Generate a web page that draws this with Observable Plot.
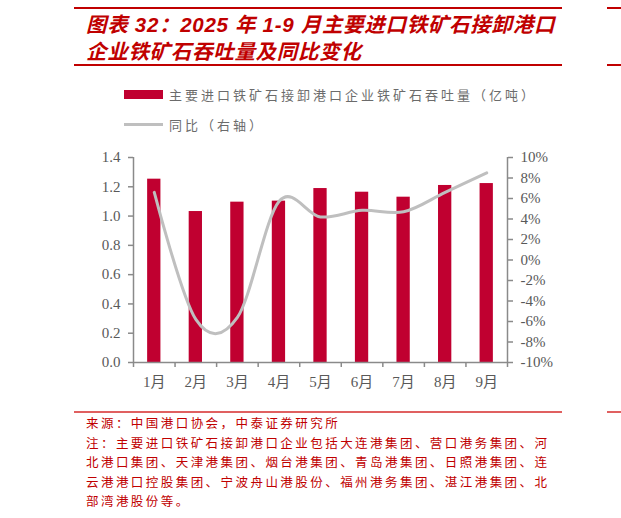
<!DOCTYPE html>
<html>
<head>
<meta charset="utf-8">
<script src="https://cdn.jsdelivr.net/npm/d3@7"></script>
<script src="https://cdn.jsdelivr.net/npm/@observablehq/plot@0.6"></script>
<style>
  html, body { margin: 0; padding: 0; background: #fff; }
  #root { position: relative; width: 621px; height: 518px; overflow: hidden; }
  .hr { position: absolute; background: #C00000; }
  #title { position: absolute; left: 86px; top: 11px; font-family: "Liberation Sans", "Noto Sans CJK SC", sans-serif; font-weight: bold; font-style: italic; font-size: 20.5px; line-height: 27px; color: #C00000; letter-spacing: 0.7px; white-space: nowrap; }
  .legend { position: absolute; left: 124px; font-family: "Noto Sans CJK SC", sans-serif; font-size: 13px; color: #6b6b6b; letter-spacing: 3px; white-space: nowrap; display: flex; align-items: center; }
  .sw { display: inline-block; width: 39px; margin-right: 6px; }
  #notes { position: absolute; left: 86px; top: 413px; font-family: "Noto Sans CJK SC", sans-serif; font-size: 12.5px; line-height: 19.5px; color: #C00000; letter-spacing: 2.45px; white-space: nowrap; }
  #chart { position: absolute; left: 0; top: 140px; }
</style>
</head>
<body>
<div id="root">
  <div class="hr" style="left:74px;top:7px;width:488px;height:2px"></div>
  <div class="hr" style="left:607px;top:7px;width:14px;height:2px"></div>
  <div id="title">图表 32：2025 年 1-9 月主要进口铁矿石接卸港口<br>企业铁矿石吞吐量及同比变化</div>
  <div class="hr" style="left:74px;top:64px;width:488px;height:1.5px"></div>
  <div class="hr" style="left:607px;top:64px;width:14px;height:1.5px"></div>
  <div class="legend" style="top:85px"><span class="sw" style="height:9px;background:#C00030"></span>主要进口铁矿石接卸港口企业铁矿石吞吐量（亿吨）</div>
  <div class="legend" style="top:115px"><span class="sw" style="height:3px;background:#BFBFBF"></span>同比（右轴）</div>
  <div id="chart"></div>
  <div class="hr" style="left:74px;top:411px;width:488px;height:1.5px;background:#e06060"></div>
  <div class="hr" style="left:607px;top:411px;width:14px;height:1.5px;background:#e06060"></div>
  <div id="notes">来源：中国港口协会，中泰证券研究所<br>注：主要进口铁矿石接卸港口企业包括大连港集团、营口港务集团、河<br>北港口集团、天津港集团、烟台港集团、青岛港集团、日照港集团、连<br>云港港口控股集团、宁波舟山港股份、福州港务集团、湛江港集团、北<br>部湾港股份等。</div>
</div>
<script>
// Data
const months = ["1月", "2月", "3月", "4月", "5月", "6月", "7月", "8月", "9月"];
const throughput = [1.252, 1.031, 1.095, 1.102, 1.188, 1.163, 1.129, 1.209, 1.222]; // 亿吨
const yoy = [6.6, -5.8, -5.6, 5.7, 4.2, 4.85, 4.7, 6.6, 8.5]; // %
const leftTicks = [0, 0.2, 0.4, 0.6, 0.8, 1.0, 1.2, 1.4];
const rightTicks = [-10, -8, -6, -4, -2, 0, 2, 4, 6, 8, 10];

const leftMax = 1.4, rMin = -10, rMax = 10;
const toLeft = p => (p - rMin) / (rMax - rMin) * leftMax;
const fromLeft = v => v / leftMax * (rMax - rMin) + rMin;

const rows = months.map((m, k) => ({i: k + 1, m, v: throughput[k], p: yoy[k]}));
const idx = rows.map(d => d.i);
const bounds = d3.range(0.5, months.length + 1, 1);

const axisColor = "#8a8a8a";
const textColor = "#595959";

const chart = Plot.plot({
  width: 621,
  height: 260,
  marginLeft: 133,
  marginRight: 114,
  marginTop: 17,
  marginBottom: 38,
  style: {fontFamily: "'Liberation Serif', 'Noto Sans CJK SC', serif", fontSize: "15px", color: textColor, background: "transparent"},
  x: {type: "linear", domain: [0.5, months.length + 0.5], axis: null},
  y: {domain: [0, leftMax], axis: null},
  marks: [
    Plot.rectY(rows, {x1: d => d.i - 0.16, x2: d => d.i + 0.16, y: "v", fill: "#C00030"}),
    Plot.line(rows, {x: "i", y: d => toLeft(d.p), curve: "cardinal", stroke: "#BFBFBF", strokeWidth: 3}),
    // axis lines
    Plot.ruleX([0.5], {y1: 0, y2: leftMax, stroke: axisColor, strokeWidth: 1.5}),
    Plot.ruleX([months.length + 0.5], {y1: 0, y2: leftMax, stroke: axisColor, strokeWidth: 1.5}),
    Plot.ruleY([0], {stroke: axisColor, strokeWidth: 1.5}),
    // left axis
    Plot.axisY({anchor: "left", label: null, ticks: leftTicks, tickFormat: d => d.toFixed(1), tickSize: 5, tickPadding: 8, stroke: axisColor, fill: textColor, strokeWidth: 1.5}),
    // right axis (percent)
    Plot.axisY({anchor: "right", label: null, ticks: rightTicks.map(toLeft), tickFormat: d => Math.round(fromLeft(d)) + "%", tickSize: 5, tickPadding: 8, stroke: axisColor, fill: textColor, strokeWidth: 1.5}),
    // x boundary ticks
    Plot.axisX({label: null, ticks: bounds, tickFormat: () => "", tickSize: 5, stroke: axisColor, strokeWidth: 1.5}),
    // x labels
    Plot.axisX({label: null, ticks: idx, tickFormat: i => months[i - 1], tickSize: 0, tickPadding: 14, fill: textColor})
  ]
});
document.getElementById("chart").appendChild(chart);
</script>
</body>
</html>
